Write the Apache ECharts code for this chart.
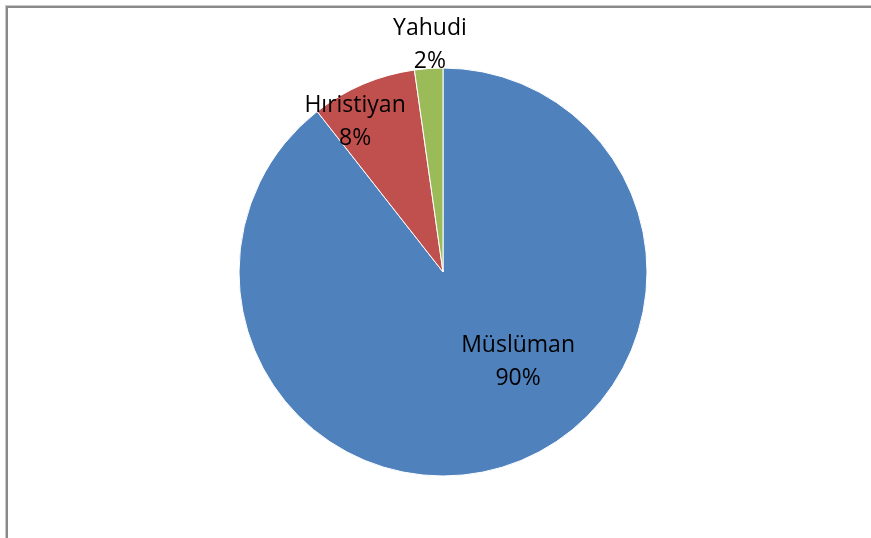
<!DOCTYPE html>
<html>
<head>
<meta charset="utf-8">
<script src="https://cdn.jsdelivr.net/npm/echarts@6/dist/echarts.min.js"></script>
<style>
  html, body { margin: 0; padding: 0; background: #fff; }
  #frame {
    position: absolute; left: 6px; top: 6px; width: 880px; height: 560px;
    border-left: 2px solid #8a8a8a; border-top: 2px solid #8a8a8a;
    box-shadow: -1px -1px 0 #c8c8c8;
  }
  #chart { position: absolute; left: 0; top: 0; width: 871px; height: 538px; }
</style>
</head>
<body>
<div id="frame"></div>
<div id="chart"></div>
<script>
const categories = ['Müslüman', 'Hıristiyan', 'Yahudi']
// values in percent; the labels show the value itself, rounded (like Excel's 0% format)
const values = [90, 8.4, 2.25]
const colors = ['#4f81bd', '#c0504d', '#9bbb59']
// label centres relative to pie centre, in units of the radius
const labelAnchors = [[0.368, 0.443], [-0.431, -0.735], [-0.064, -1.113]]

const center = [443, 272]
const radius = 204

const chart = echarts.init(document.getElementById('chart'))
chart.setOption({
  animation: false,
  series: [
    {
      type: 'pie',
      center: center,
      radius: radius,
      startAngle: 90,
      clockwise: true,
      avoidLabelOverlap: false,
      itemStyle: { borderColor: '#ffffff', borderWidth: 1 },
      label: {
        show: true,
        position: 'inside',
        formatter: p => p.name + '\n' + Math.round(p.value) + '%',
        color: '#000',
        fontFamily: 'Open Sans',
        fontSize: 23,
        lineHeight: 33,
        align: 'center',
        verticalAlign: 'middle'
      },
      labelLine: { show: false },
      labelLayout: function (params) {
        const a = labelAnchors[params.dataIndex]
        return {
          x: center[0] + a[0] * radius,
          y: center[1] + a[1] * radius,
          align: 'center',
          verticalAlign: 'middle'
        }
      },
      emphasis: { disabled: true },
      data: categories.map((name, i) => ({
        name: name,
        value: values[i],
        itemStyle: { color: colors[i] }
      }))
    }
  ]
})
</script>
</body>
</html>
